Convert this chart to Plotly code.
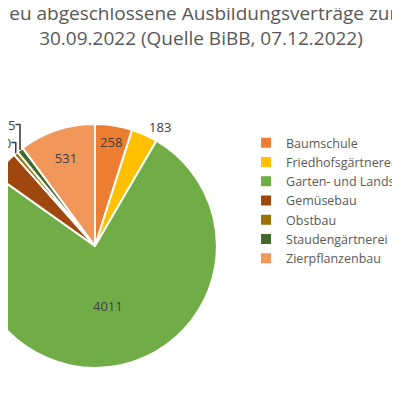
import plotly.graph_objects as go

labels = ["Baumschule", "Friedhofsgärtnerei", "Garten- und Landschaftsbau", "Gemüsebau",
          "Obstbau", "Staudengärtnerei", "Zierpflanzenbau"]
values = [258, 183, 4011, 190, 30, 45, 531]
colors = ["#ED7D31", "#FFC000", "#70AD47", "#9E480E", "#997300", "#43682B", "#F1975A"]
positions = ["inside", "outside", "inside", "outside", "outside", "outside", "inside"]

fig = go.Figure(go.Pie(
    labels=labels, values=values, sort=False, direction="clockwise", rotation=0,
    marker=dict(colors=colors, line=dict(color="white", width=2)),
    textinfo="value", textposition=positions,
    textfont=dict(color="#404040", size=13), insidetextorientation="horizontal",
    domain=dict(x=[0.07, 0.53], y=[0.1, 0.71]),
))
fig.update_layout(
    width=530, height=400, margin=dict(l=0, r=0, t=0, b=0),
    font=dict(family="Open Sans", color="#595959"),
    title=dict(text="Neu abgeschlossene Ausbildungsverträge zum<br>30.09.2022 (Quelle BiBB, 07.12.2022)",
               x=0.5, xanchor="center", y=0.97, yanchor="top", font=dict(size=19, color="#595959")),
    legend=dict(x=0.585, y=0.7, yanchor="top", font=dict(size=12.5, color="#595959"),
                tracegroupgap=0),
    paper_bgcolor="white", showlegend=True,
)
fig.write_html("out.html", post_script="document.getElementById('{plot_id}').style.marginLeft='-72px';")
